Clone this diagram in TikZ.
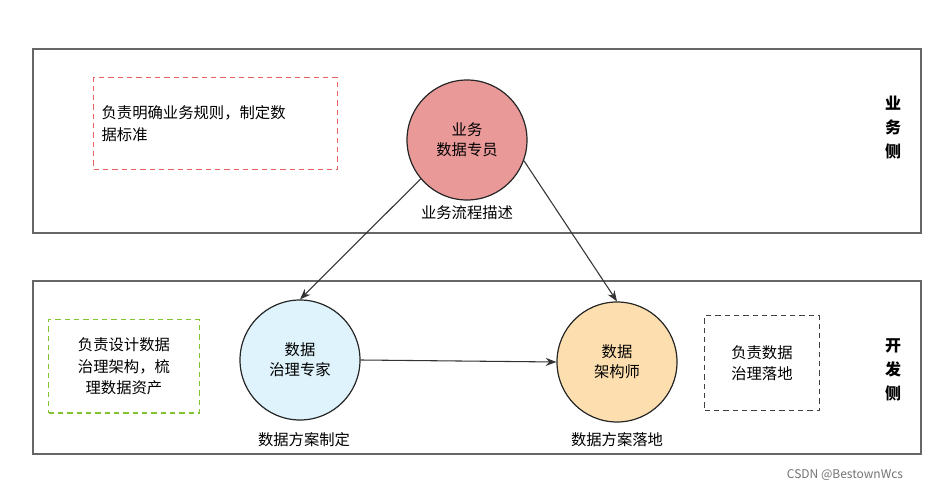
\documentclass[tikz,border=0pt]{standalone}
\usepackage{fontspec}
\setmainfont{Noto Sans CJK SC}
\usetikzlibrary{positioning,arrows.meta}
\definecolor{notepink}{RGB}{232,96,96}

\begin{document}
\begin{tikzpicture}[
    x=0.75pt, y=-0.75pt,
    panel/.style={draw=black!60, line width=0.8pt},
    role/.style={circle, draw=black!85, line width=0.9pt, minimum size=90pt, align=center, font=\fontsize{11.5}{15}\selectfont},
    note/.style={draw, dash pattern=on 4pt off 3pt, line width=0.9pt, align=left, font=\fontsize{11.5}{16}\selectfont, inner sep=6pt},
    caption/.style={font=\fontsize{11.5}{14}\selectfont},
    side/.style={font=\bfseries\fontsize{12}{18}\selectfont, align=center},
    flow/.style={-{Stealth[length=8pt]}, line width=0.8pt, draw=black!80}
]
\useasboundingbox (0,0) rectangle (939,491);

% panels
\draw[panel] (33,49) rectangle (921,233);
\draw[panel] (33,281) rectangle (921,454);

% roles
\node[role, fill={rgb,255:red,234;green,153;blue,153}] (owner) at (467,140) {业务\\数据专员};
\node[role, fill={rgb,255:red,222;green,243;blue,251}] (expert) at (300,360) {数据\\治理专家};
\node[role, fill={rgb,255:red,253;green,223;blue,175}] (architect) at (617,362) {数据\\架构师};

% captions
\node[caption] (ownercap) at (467,213) {业务流程描述};
\node[caption] (expertcap) at (304,440) {数据方案制定};
\node[caption] (archcap) at (617,440) {数据方案落地};

% notes
\node[note, draw=notepink, text width=171pt, minimum height=69pt, anchor=north west] (ownernote) at (93,77) {负责明确业务规则，制定数\\据标准};
\node[note, draw={rgb,255:red,130;green,195;blue,50}, align=center, minimum width=113pt, minimum height=70pt, anchor=north west] (expertnote) at (48,319) {负责设计数据\\治理架构，梳\\理数据资产};
\node[note, draw=black!75, align=center, minimum width=86pt, minimum height=71pt, anchor=north west] (archnote) at (704,315) {负责数据\\治理落地};

% sides
\node[side] (bizside) at (893,128) {业\\务\\侧};
\node[side] (devside) at (893,370) {开\\发\\侧};

% connectors
\draw[flow] (owner.220) -- (expert.north);
\draw[flow] (owner.340) -- (architect.north);
\draw[flow] (expert.east) -- (architect.west);

\node[font=\fontsize{9}{11}\selectfont, text=black!55] (mark) at (845,475) {CSDN @BestownWcs};
\end{tikzpicture}
\end{document}
